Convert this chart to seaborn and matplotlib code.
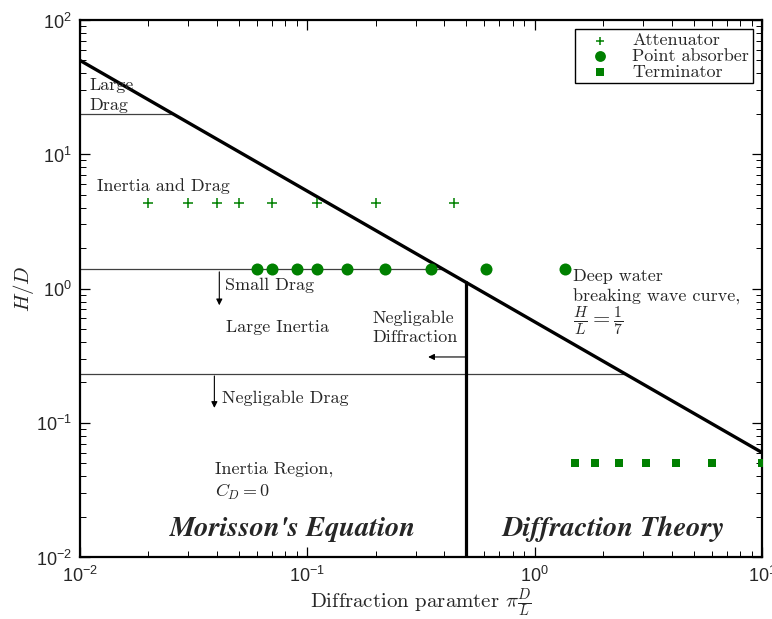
import numpy as np
import pandas as pd
import matplotlib
matplotlib.use("Agg")
import matplotlib.pyplot as plt
from matplotlib.ticker import LogLocator, NullFormatter
import seaborn as sns

# Deep-water breaking wave limit (H/L = 1/7), straight line on log-log axes
wave_x = [0.01, 10.0]
wave_h = [50.0, 0.06]

# Region boundaries
diffraction_limit = 0.5
large_drag_h = 20.0
small_drag_h = 1.4
negligible_drag_h = 0.23

# Device types
attenuator_x = [0.02, 0.03, 0.04, 0.05, 0.07, 0.11, 0.2, 0.44]
attenuator_h = 4.3
point_absorber_x = [0.06, 0.07, 0.09, 0.11, 0.15, 0.22, 0.35, 0.61, 1.36]
point_absorber_h = 1.4
terminator_x = [1.5, 1.85, 2.35, 3.1, 4.2, 6.0, 10.0]
terminator_h = 0.05

x_ticks = [0.01, 0.1, 1, 10]
x_tick_labels = [r"$10^{-2}$", r"$10^{-1}$", r"$10^{0}$", r"$10^{1}$"]
y_ticks = [0.01, 0.1, 1, 10, 100]
y_tick_labels = [r"$10^{-2}$", r"$10^{-1}$", r"$10^{0}$", r"$10^{1}$", r"$10^{2}$"]

sns.set_style("ticks")
plt.rcParams.update({
    "font.family": ["cmr10", "DejaVu Serif"],
    "mathtext.fontset": "cm",
    "mathtext.rm": "Liberation Sans",
    "mathtext.it": "Liberation Sans:italic",
    "mathtext.bf": "Liberation Sans:bold",
    "axes.unicode_minus": False,
    "axes.formatter.use_mathtext": True,
})


def _wave_fit():
    lx = np.log10(wave_x)
    lh = np.log10(wave_h)
    return lx, lh, (lh[1] - lh[0]) / (lx[1] - lx[0])


def wave_x_at(h):
    """x where the breaking-wave line reaches height h (log-log interpolation)."""
    lx, lh, slope = _wave_fit()
    return 10 ** (lx[0] + (np.log10(h) - lh[0]) / slope)


def wave_h_at(x):
    lx, lh, slope = _wave_fit()
    return 10 ** (lh[0] + slope * (np.log10(x) - lx[0]))


fig = plt.figure(figsize=(7.72, 6.19), dpi=100)
ax = fig.add_axes([80 / 772, 62 / 619, 682 / 772, 537 / 619])
ax.set_xscale("log")
ax.set_yscale("log")
ax.set_xlim(0.01, 10)
ax.set_ylim(0.01, 100)

# Region boundaries
thin = dict(color="0.25", lw=0.9)
ax.plot([wave_x[0], wave_x_at(large_drag_h)], [large_drag_h] * 2, **thin)
ax.plot([wave_x[0], wave_x_at(small_drag_h)], [small_drag_h] * 2, **thin)
ax.plot([wave_x[0], wave_x_at(negligible_drag_h)], [negligible_drag_h] * 2, **thin)
ax.plot([diffraction_limit] * 2, [0.01, wave_h_at(diffraction_limit)], color="black", lw=2.3)

wave = pd.DataFrame({"x": wave_x, "h": wave_h})
sns.lineplot(data=wave, x="x", y="h", color="black", lw=2.4, ax=ax)

# Device markers
sns.scatterplot(x=attenuator_x, y=[attenuator_h] * len(attenuator_x), marker="+",
                color="green", s=45, linewidth=1.1, label="Attenuator", ax=ax, zorder=3)
sns.scatterplot(x=point_absorber_x, y=[point_absorber_h] * len(point_absorber_x), marker="o",
                color="green", s=75, linewidth=0, label="Point absorber", ax=ax, zorder=3)
sns.scatterplot(x=terminator_x, y=[terminator_h] * len(terminator_x), marker="s",
                color="green", s=40, linewidth=0, label="Terminator", ax=ax, zorder=3)

# Arrows
arrow = dict(arrowstyle="-|>", color="black", lw=0.8, mutation_scale=9, shrinkA=0, shrinkB=0)
ax.annotate("", xy=(0.041, 0.75), xytext=(0.041, 1.33), arrowprops=arrow)
ax.annotate("", xy=(0.039, 0.129), xytext=(0.039, 0.223), arrowprops=arrow)
ax.annotate("", xy=(0.34, 0.309), xytext=(diffraction_limit, 0.309), arrowprops=arrow)

# Region annotations
fs = 13
ax.text(0.011, 27.6, "Large\nDrag", fontsize=fs, va="center", ha="left", linespacing=1.35)
ax.text(0.0119, 5.8, "Inertia and Drag", fontsize=fs, va="center", ha="left")
ax.text(0.0435, 1.06, "Small Drag", fontsize=fs, va="center", ha="left")
ax.text(0.0439, 0.51, "Large Inertia", fontsize=fs, va="center", ha="left")
ax.text(0.193, 0.51, "Negligable\nDiffraction", fontsize=fs, va="center", ha="left",
        linespacing=1.35)
ax.text(0.042, 0.153, "Negligable Drag", fontsize=fs, va="center", ha="left")
ax.text(1.48, 1.24, "Deep water", fontsize=fs, va="center", ha="left")
ax.text(1.48, 0.865, "breaking wave curve,", fontsize=fs, va="center", ha="left")
ax.text(1.48, 0.573, r"$\frac{H}{L} = \frac{1}{7}$", fontsize=16, va="center", ha="left")
ax.text(0.0393, 0.0452, "Inertia Region,", fontsize=fs, va="center", ha="left")
ax.text(0.0393, 0.0305, r"$C_D = 0$", fontsize=fs, va="center", ha="left")
ax.text(0.0865, 0.0162, "Morisson's Equation", fontsize=20.5, va="center", ha="center",
        family="STIXGeneral", weight="bold", style="italic")
ax.text(2.23, 0.0162, "Diffraction Theory", fontsize=20.5, va="center", ha="center",
        family="STIXGeneral", weight="bold", style="italic")

# Axes, ticks and labels
ax.set_xticks(x_ticks, labels=x_tick_labels, math_fontfamily="custom", fontsize=13)
ax.set_yticks(y_ticks, labels=y_tick_labels, math_fontfamily="custom", fontsize=13)
for axis in (ax.xaxis, ax.yaxis):
    axis.set_minor_locator(LogLocator(base=10, subs=np.arange(2, 10)))
    axis.set_minor_formatter(NullFormatter())
ax.tick_params(which="both", direction="in", top=True, right=True, color="black")
ax.tick_params(which="major", length=7, width=0.9, pad=6)
ax.tick_params(which="minor", length=4, width=0.7)
for spine in ax.spines.values():
    spine.set_linewidth(1.6)
    spine.set_color("black")

ax.set_xlabel(r"Diffraction paramter $\pi\frac{D}{L}$", fontsize=15, labelpad=1)
ax.set_ylabel(r"$H/D$", fontsize=15, labelpad=0)

ax.legend(loc="upper right", fancybox=False, edgecolor="black", framealpha=1,
          fontsize=13, labelspacing=0.0, handletextpad=0.6, borderpad=0.2,
          borderaxespad=0.5, handlelength=2.4, markerscale=0.9)

fig.savefig("out.png", dpi=100)
